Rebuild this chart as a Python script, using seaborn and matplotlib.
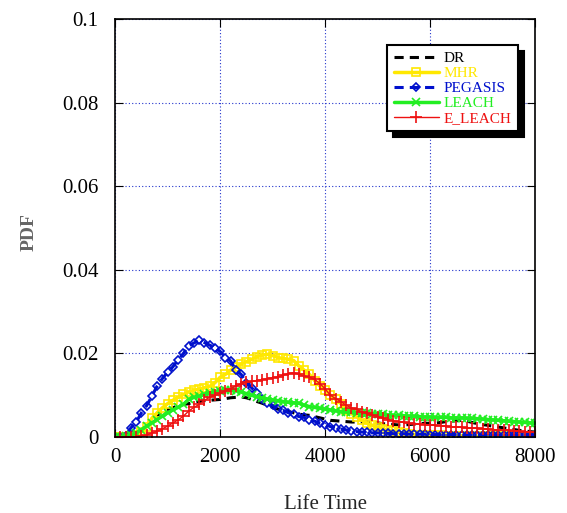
import numpy as np
import seaborn as sns
import matplotlib.pyplot as plt
from matplotlib.ticker import FuncFormatter

# life time samples (step 100)
life_time = list(range(0, 8001, 100))

dr = [0, 0, 0, 0.0002, 0.0008, 0.0015, 0.0025, 0.0040, 0.0052, 0.0060,
      0.0066, 0.0070, 0.0075, 0.0078, 0.0080, 0.0083, 0.0085, 0.0087, 0.0088, 0.0089,
      0.0090, 0.0092, 0.0094, 0.0095, 0.0096, 0.0094, 0.0090, 0.0085, 0.0081, 0.0076,
      0.0071, 0.0067, 0.0064, 0.0061, 0.0058, 0.0055, 0.0053, 0.0052, 0.0049, 0.0046,
      0.0043, 0.0040, 0.0039, 0.0038, 0.0037, 0.0036, 0.0036, 0.0036, 0.0036, 0.0035,
      0.0034, 0.0032, 0.0031, 0.0030, 0.0029, 0.0029, 0.0030, 0.0031, 0.0032, 0.0033,
      0.0033, 0.0034, 0.0035, 0.0037, 0.0038, 0.0039, 0.0040, 0.0038, 0.0035, 0.0032,
      0.0030, 0.0028, 0.0026, 0.0024, 0.0022, 0.0020, 0.0018, 0.0016, 0.0015, 0.0013,
      0.0012]

mhr = [0, 0, 0, 0.0002, 0.0005, 0.0012, 0.0025, 0.0045, 0.0058, 0.0070,
       0.0080, 0.0088, 0.0095, 0.0102, 0.0108, 0.0112, 0.0115, 0.0118, 0.0121, 0.0130,
       0.0143, 0.0150, 0.0160, 0.0167, 0.0175, 0.0180, 0.0186, 0.0192, 0.0196, 0.0198,
       0.0195, 0.0190, 0.0188, 0.0186, 0.0183, 0.0170, 0.0160, 0.0150, 0.0135, 0.0122,
       0.0112, 0.0100, 0.0090, 0.0080, 0.0065, 0.0056, 0.0048, 0.0040, 0.0033, 0.0028,
       0.0024, 0.0020, 0.0017, 0.0014, 0.0011, 0.0009, 0.0007, 0.0006, 0.0005, 0.0005,
       0.0004, 0.0004, 0.0004, 0.0003, 0.0003, 0.0003, 0.0003, 0.0003, 0.0002, 0.0002,
       0.0002, 0.0002, 0.0002, 0.0002, 0.0002, 0.0002, 0.0002, 0.0002, 0.0002, 0.0002,
       0.0002]

pegasis = [0, 0, 0.0003, 0.0022, 0.0035, 0.0058, 0.0075, 0.0098, 0.0122, 0.0140,
           0.0155, 0.0168, 0.0185, 0.0200, 0.0218, 0.0225, 0.0231, 0.0226, 0.0220, 0.0214,
           0.0205, 0.0190, 0.0182, 0.0160, 0.0150, 0.0130, 0.0118, 0.0105, 0.0092, 0.0082,
           0.0076, 0.0068, 0.0064, 0.0058, 0.0054, 0.0049, 0.0047, 0.0042, 0.0038, 0.0033,
           0.0030, 0.0025, 0.0022, 0.0019, 0.0017, 0.0015, 0.0013, 0.0012, 0.0011, 0.0010,
           0.0010, 0.0009, 0.0009, 0.0008, 0.0008, 0.0008, 0.0007, 0.0007, 0.0007, 0.0007,
           0.0006, 0.0006, 0.0006, 0.0006, 0.0006, 0.0006, 0.0005, 0.0005, 0.0005, 0.0005,
           0.0005, 0.0005, 0.0005, 0.0005, 0.0005, 0.0005, 0.0005, 0.0005, 0.0005, 0.0005,
           0.0005]

leach = [0, 0, 0.0002, 0.0005, 0.0010, 0.0018, 0.0026, 0.0034, 0.0042, 0.0050,
         0.0058, 0.0065, 0.0071, 0.0078, 0.0090, 0.0095, 0.0098, 0.0102, 0.0105, 0.0107,
         0.0110, 0.0112, 0.0113, 0.0111, 0.0108, 0.0104, 0.0100, 0.0097, 0.0094, 0.0091,
         0.0089, 0.0087, 0.0085, 0.0083, 0.0082, 0.0081, 0.0076, 0.0073, 0.0071, 0.0069,
         0.0067, 0.0065, 0.0063, 0.0061, 0.0060, 0.0059, 0.0058, 0.0057, 0.0057, 0.0056,
         0.0055, 0.0054, 0.0053, 0.0052, 0.0052, 0.0051, 0.0050, 0.0050, 0.0049, 0.0048,
         0.0048, 0.0047, 0.0047, 0.0047, 0.0046, 0.0046, 0.0046, 0.0045, 0.0045, 0.0044,
         0.0043, 0.0042, 0.0041, 0.0040, 0.0039, 0.0038, 0.0037, 0.0036, 0.0035, 0.0034,
         0.0033]

e_leach = [0, 0, 0, 0, 0, 0.0002, 0.0005, 0.0010, 0.0014, 0.0020,
           0.0026, 0.0034, 0.0041, 0.0050, 0.0062, 0.0071, 0.0078, 0.0088, 0.0095, 0.0100,
           0.0105, 0.0111, 0.0116, 0.0122, 0.0128, 0.0131, 0.0133, 0.0135, 0.0137, 0.0140,
           0.0142, 0.0144, 0.0148, 0.0152, 0.0154, 0.0150, 0.0146, 0.0143, 0.0138, 0.0128,
           0.0115, 0.0100, 0.0092, 0.0085, 0.0076, 0.0070, 0.0066, 0.0060, 0.0057, 0.0053,
           0.0049, 0.0045, 0.0042, 0.0039, 0.0037, 0.0035, 0.0034, 0.0032, 0.0031, 0.0030,
           0.0029, 0.0028, 0.0027, 0.0026, 0.0025, 0.0024, 0.0023, 0.0022, 0.0021, 0.0021,
           0.0020, 0.0019, 0.0018, 0.0017, 0.0017, 0.0016, 0.0015, 0.0014, 0.0013, 0.0013,
           0.0012]

series_names = ['DR', 'MHR', 'PEGASIS', 'LEACH', 'E_LEACH']
series_values = [dr, mhr, pegasis, leach, e_leach]
colors = {'DR': 'black', 'MHR': '#FFE800', 'PEGASIS': '#0010CC',
          'LEACH': '#22EE22', 'E_LEACH': '#EE1111'}

styles = {
    'DR': dict(linestyle=(0, (3, 2)), lw=2.2),
    'MHR': dict(linestyle='-', lw=2.5, marker='s', ms=6, mfc='none', mew=1.2),
    'PEGASIS': dict(linestyle=(0, (3, 2)), lw=2.2, marker='D', ms=4.5, mfc='none', mew=1.2),
    'LEACH': dict(linestyle='-', lw=2.5, marker='x', ms=6, mew=1.2),
    'E_LEACH': dict(linestyle='-', lw=1.0, marker='+', ms=9, mew=1.2),
}

sns.set_style('ticks')
plt.rcParams['font.family'] = ['Liberation Serif', 'DejaVu Serif']

fig = plt.figure(figsize=(5.67, 5.13), dpi=100)
ax = fig.add_axes([0.203, 0.148, 0.741, 0.815])

for name, vals in zip(series_names, series_values):
    c = colors[name]
    sns.lineplot(x=life_time, y=vals, ax=ax, label=name, color=c,
                 markeredgecolor=c, **styles[name])

ax.set_xlim(0, 8000)
ax.set_ylim(0, 0.1)
ax.set_xticks([0, 2000, 4000, 6000, 8000])
ax.set_yticks([0, 0.02, 0.04, 0.06, 0.08, 0.1])
ax.yaxis.set_major_formatter(FuncFormatter(lambda v, p: '%g' % round(v, 3)))
ax.grid(True, color='#2233CC', linestyle=(0, (1, 2)), lw=0.8)
ax.tick_params(direction='in', top=True, right=True, length=6,
               labelsize=15, colors='black')
ax.tick_params(axis='x', pad=8)
ax.tick_params(axis='y', pad=12)
for s in ax.spines.values():
    s.set_linewidth(1.2)
    s.set_color('black')

ax.set_xlabel('Life Time', fontsize=15, labelpad=20)
ax.set_ylabel('PDF', fontsize=14, color='#666666', fontweight='bold')
ax.yaxis.set_label_coords(-0.185, 0.49)

leg = ax.legend(loc='upper left', bbox_to_anchor=(0.63, 0.955), fontsize=11,
                frameon=True, fancybox=False,
                shadow={'color': 'black', 'alpha': 1, 'ox': 4, 'oy': -4},
                handlelength=3.0, handletextpad=0.3, borderpad=0.4, labelspacing=0.08)
leg.get_frame().set_edgecolor('black')
leg.get_frame().set_linewidth(1.5)
leg.get_frame().set_alpha(1)
for txt, name in zip(leg.get_texts(), series_names):
    txt.set_color(colors[name])

fig.savefig('out.png', dpi=100)
